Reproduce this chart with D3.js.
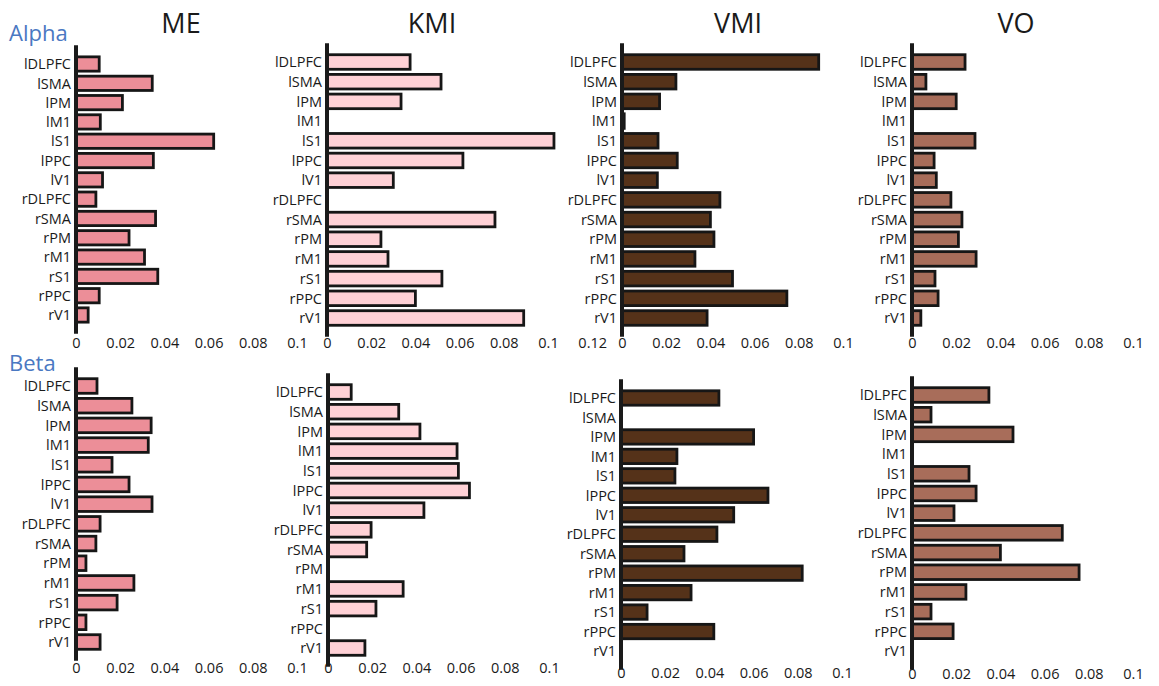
<!DOCTYPE html>
<html lang="en">
<head>
<meta charset="UTF-8">
<title>Alpha / Beta – ME, KMI, VMI, VO</title>
<script src="https://d3js.org/d3.v7.min.js"></script>
<style>
  body { margin: 0; background: #fff; }
  svg text { font-family: "Open Sans", "Noto Sans", sans-serif; fill: #1a1a1a; }
  .region { font-size: 14.5px; }
  .tick text { font-size: 14.5px; }
  .title { font-size: 27px; }
  .band { font-size: 22px; fill: #4a78c2 !important; }
</style>
</head>
<body>
<svg width="1159" height="686"></svg>
<script>
const regions = ["lDLPFC", "lSMA", "lPM", "lM1", "lS1", "lPPC", "lV1",
                 "rDLPFC", "rSMA", "rPM", "rM1", "rS1", "rPPC", "rV1"];
const measures = ["ME", "KMI", "VMI", "VO"];
const bands = ["Alpha", "Beta"];
const ticksMain = [0, 0.02, 0.04, 0.06, 0.08, 0.1];
const ticksWide = [0, 0.02, 0.04, 0.06, 0.08, 0.1, 0.12];

// alpha band
const alphaME  = [0.0105, 0.0345, 0.021, 0.011, 0.0623, 0.035, 0.012, 0.009, 0.036, 0.024, 0.031, 0.037, 0.0105, 0.0055];
const alphaKMI = [0.0376, 0.0516, 0.0335, 0, 0.1027, 0.0615, 0.030, 0, 0.076, 0.0244, 0.0276, 0.052, 0.040, 0.089];
const alphaVMI = [0.089, 0.0244, 0.017, 0.001, 0.0163, 0.025, 0.016, 0.0443, 0.040, 0.0416, 0.033, 0.050, 0.0746, 0.0385];
const alphaVO  = [0.024, 0.0063, 0.020, 0, 0.0285, 0.010, 0.011, 0.0176, 0.0226, 0.021, 0.029, 0.0104, 0.0118, 0.004];

// beta band
const betaME  = [0.0095, 0.0253, 0.034, 0.0327, 0.0163, 0.024, 0.0344, 0.0109, 0.009, 0.0045, 0.0262, 0.0186, 0.0045, 0.0109];
const betaKMI = [0.0105, 0.032, 0.0416, 0.0584, 0.059, 0.064, 0.0434, 0.0195, 0.0175, 0, 0.034, 0.0217, 0, 0.0167];
const betaVMI = [0.0443, 0, 0.060, 0.0253, 0.0244, 0.0665, 0.051, 0.0434, 0.0285, 0.082, 0.0317, 0.0118, 0.042, 0];
const betaVO  = [0.0348, 0.0086, 0.0457, 0, 0.0258, 0.029, 0.019, 0.068, 0.040, 0.0756, 0.0244, 0.0086, 0.0186, 0];

const colors = { ME: "#ec8e98", KMI: "#ffd1d6", VMI: "#553219", VO: "#a86d5a" };

// panel placement: axis x, first / last bar centre, bottom tick row
const panels = [
  { band: 0, m: "ME",  values: alphaME,  ax: 76,  y0: 64,  y1: 315, ty: 348, ticks: ticksMain },
  { band: 0, m: "KMI", values: alphaKMI, ax: 327, y0: 62,  y1: 318, ty: 348, ticks: ticksWide },
  { band: 0, m: "VMI", values: alphaVMI, ax: 622, y0: 62,  y1: 318, ty: 348, ticks: ticksMain },
  { band: 0, m: "VO",  values: alphaVO,  ax: 912, y0: 62,  y1: 318, ty: 348, ticks: ticksMain },
  { band: 1, m: "ME",  values: betaME,   ax: 76,  y0: 386, y1: 642, ty: 673, ticks: ticksMain },
  { band: 1, m: "KMI", values: betaKMI,  ax: 328, y0: 392, y1: 648, ty: 673, ticks: ticksMain },
  { band: 1, m: "VMI", values: betaVMI,  ax: 621, y0: 398, y1: 651, ty: 678, ticks: ticksMain },
  { band: 1, m: "VO",  values: betaVO,   ax: 912, y0: 395, y1: 651, ty: 679, ticks: ticksMain }
];

const svg = d3.select("svg");

// column titles
const titleX = { ME: 181, KMI: 432, VMI: 738, VO: 1016 };
svg.selectAll(".title")
  .data(measures)
  .enter().append("text")
  .attr("class", "title")
  .attr("x", d => titleX[d])
  .attr("y", 33)
  .attr("text-anchor", "middle")
  .text(d => d);

// band labels
svg.selectAll(".band")
  .data(bands)
  .enter().append("text")
  .attr("class", "band")
  .attr("x", 9)
  .attr("y", (d, i) => i === 0 ? 41 : 371)
  .text(d => d);

panels.forEach(p => {
  const data = regions.map((r, i) => ({ region: r, value: p.values[i] }));
  const step = (p.y1 - p.y0) / (regions.length - 1);

  const x = d3.scaleLinear().domain([0, 0.1]).range([p.ax, p.ax + 221]);
  const y = d3.scaleBand()
    .domain(regions)
    .range([p.y0 - step / 2, p.y1 + step / 2])
    .paddingInner(0.26)
    .paddingOuter(0.13);

  const g = svg.append("g");

  g.selectAll("rect")
    .data(data.filter(d => d.value > 0))
    .enter().append("rect")
    .attr("x", x(0))
    .attr("y", d => y(d.region))
    .attr("width", d => x(d.value) - x(0))
    .attr("height", y.bandwidth())
    .attr("fill", colors[p.m])
    .attr("stroke", "#161616")
    .attr("stroke-width", 2.8);

  // vertical axis line
  g.append("line")
    .attr("x1", p.ax).attr("x2", p.ax)
    .attr("y1", y.range()[0] - 9)
    .attr("y2", y.range()[1] + 9)
    .attr("stroke", "#1a1a1a")
    .attr("stroke-width", 4);

  g.selectAll(".region")
    .data(regions)
    .enter().append("text")
    .attr("class", "region")
    .attr("x", p.ax - 5)
    .attr("y", d => y(d) + y.bandwidth() / 2)
    .attr("dy", "0.36em")
    .attr("text-anchor", "end")
    .text(d => d);

  const axis = g.append("g")
    .attr("transform", `translate(0, ${p.ty - 10})`)
    .call(d3.axisBottom(x).tickValues(p.ticks).tickSize(0).tickPadding(0)
      .tickFormat(d3.format("~g")));
  axis.select(".domain").remove();
});
</script>
</body>
</html>
